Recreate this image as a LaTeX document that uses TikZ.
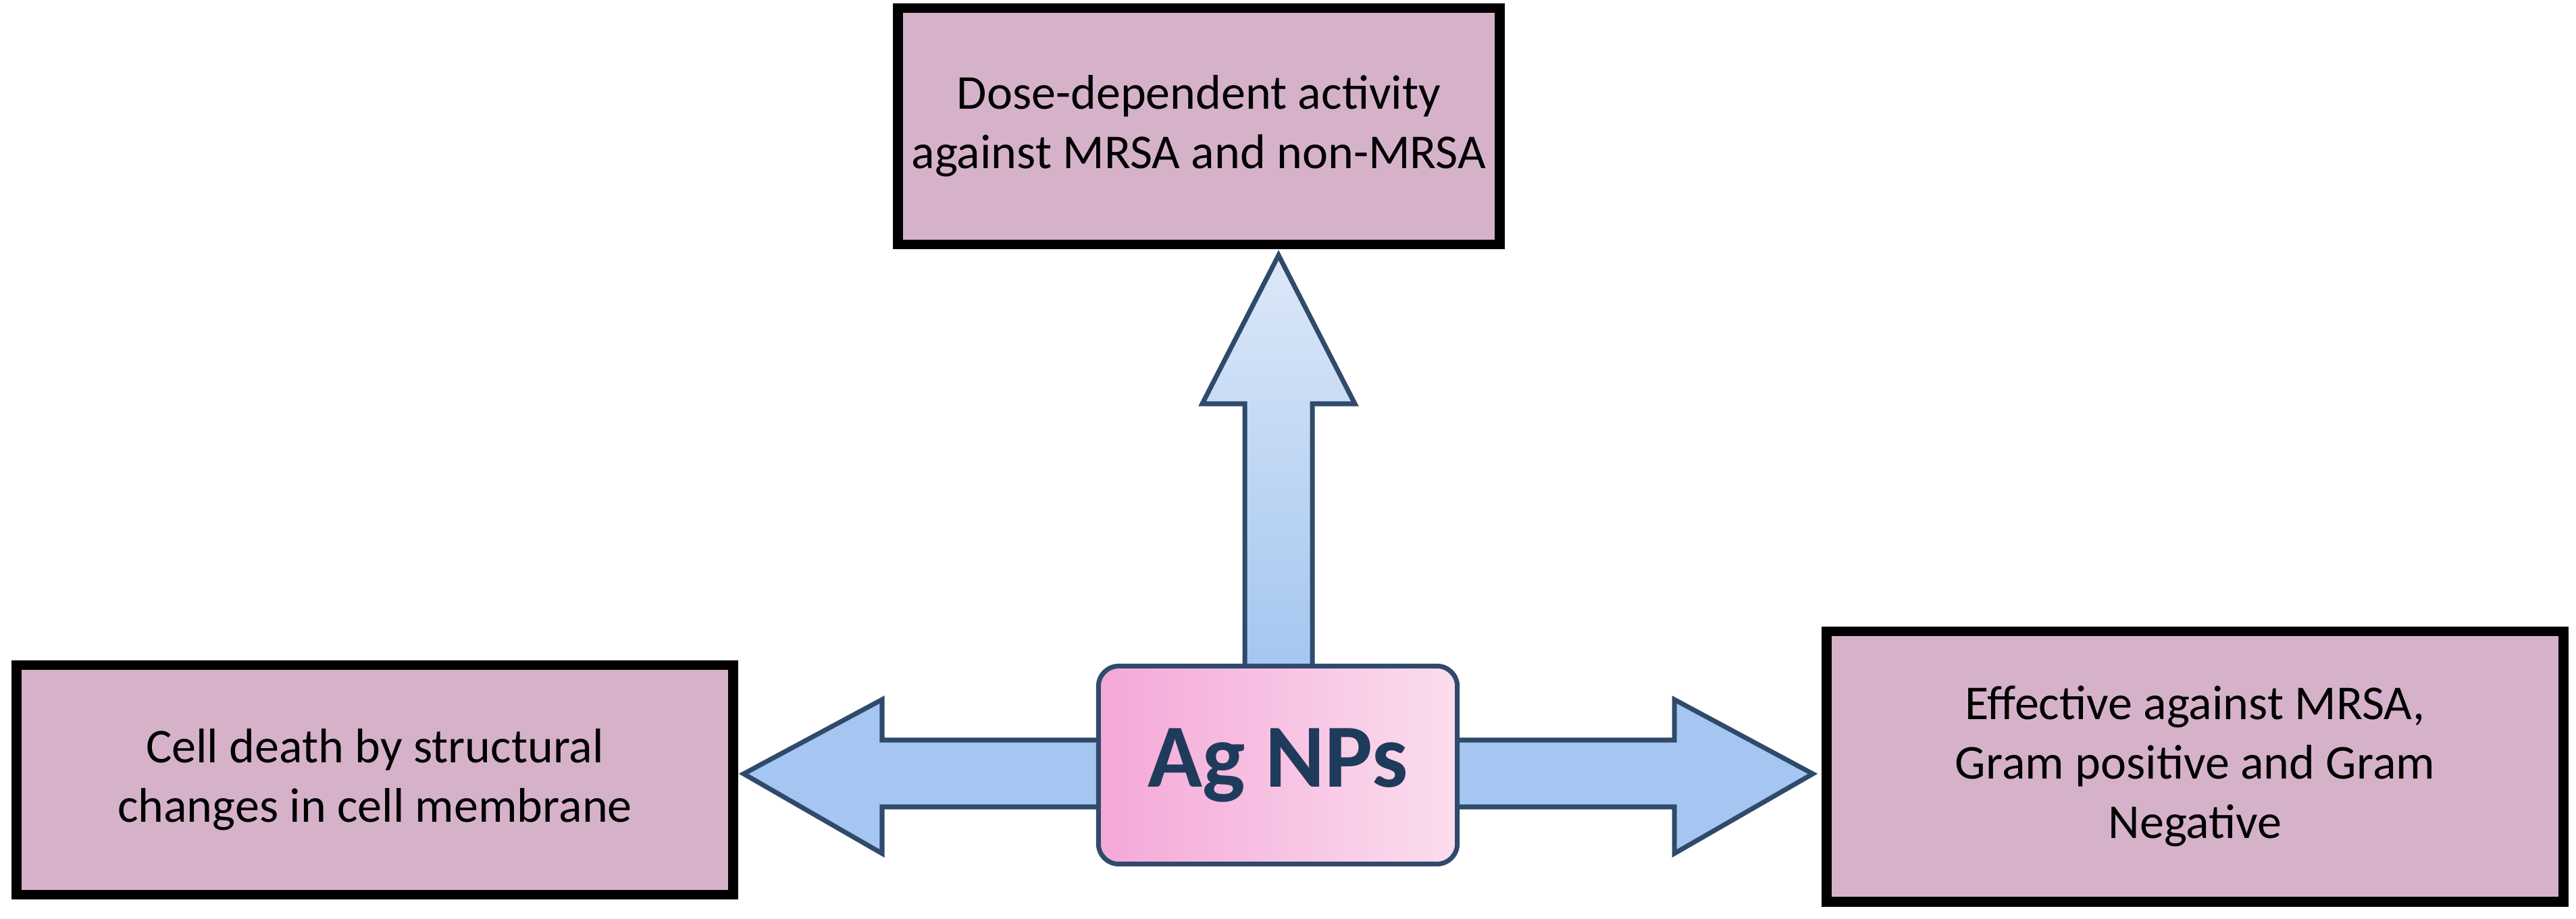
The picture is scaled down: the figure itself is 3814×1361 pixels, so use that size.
\documentclass[tikz,border=0pt]{standalone}
\usepackage{fontspec}
\setmainfont{Carlito}
\usetikzlibrary{shadings}
\definecolor{boxfill}{HTML}{D6B2CA}
\definecolor{arrline}{HTML}{2F4A6B}
\definecolor{arrlight}{HTML}{DCE8F8}
\definecolor{arrdark}{HTML}{A4C6F0}
\definecolor{agtext}{HTML}{1F3B5C}
\definecolor{pinkA}{HTML}{F4A8D8}
\definecolor{pinkB}{HTML}{FBDDEE}
\tikzset{
 box/.style={draw=black,line width=4.2pt,fill=boxfill,align=center,font=\fontsize{20.5}{25}\selectfont},
 arr/.style={draw=arrline,line width=2pt,line join=miter},
}
\begin{document}
\begin{tikzpicture}[x=0.01cm,y=-0.01cm]
\useasboundingbox (0,0) rectangle (3814,1361);
% arrows
\path[arr,top color=arrlight,bottom color=arrdark] (1843,990) -- (1843,598) -- (1780,598) -- (1893,378) -- (2006,598) -- (1943,598) -- (1943,990) -- cycle;
\path[arr,fill=arrdark] (1640,1096) -- (1306,1096) -- (1306,1036) -- (1101,1146) -- (1306,1264) -- (1306,1195) -- (1640,1195) -- cycle;
\path[arr,fill=arrdark] (2150,1096) -- (2479,1096) -- (2479,1036) -- (2684,1146) -- (2479,1264) -- (2479,1195) -- (2150,1195) -- cycle;
% center
\node[draw=arrline,line width=2pt,rounded corners=0.3cm,left color=pinkA,right color=pinkB,
 minimum width=5.31cm,minimum height=2.93cm,inner sep=0pt,
 font=\fontsize{38}{42}\selectfont\bfseries,text=agtext] (ag) at (1892,1133) {Ag NPs};
% boxes
\node[box,minimum width=8.9cm,minimum height=3.5cm] (top) at (1775,187) {Dose-dependent activity\\against MRSA and non-MRSA};
\node[box,minimum width=10.6cm,minimum height=3.4cm] (left) at (555,1155) {Cell death by structural\\changes in cell membrane};
\node[box,minimum width=10.9cm,minimum height=4.0cm] (right) at (3250,1135) {Effective against MRSA,\\Gram positive and Gram\\Negative};
\end{tikzpicture}
\end{document}
